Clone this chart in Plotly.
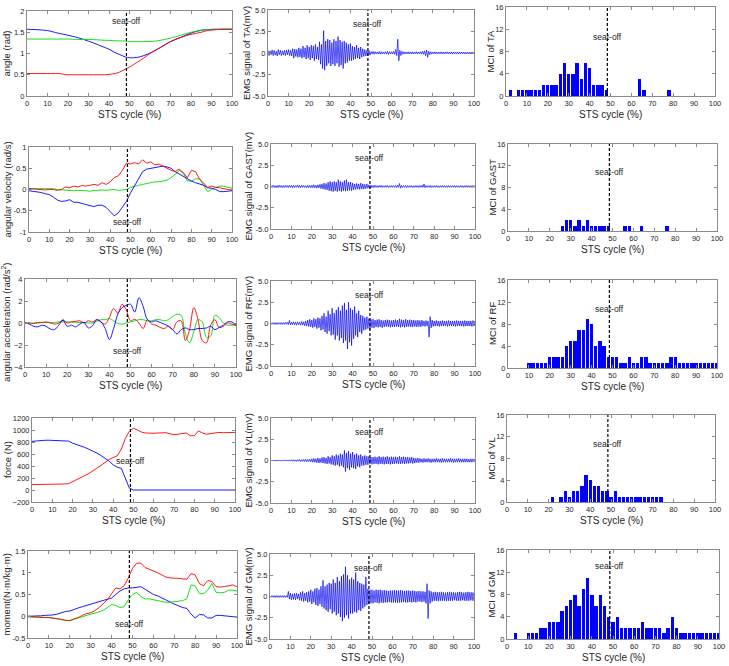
import plotly.graph_objects as go

# ---------------- data ----------------
SEAT_OFF = 48.5
pct = list(range(0, 101))
step2 = list(range(0, 101, 2))

# Row 1: joint angles (rad)
ang_x = [0, 5, 10, 15, 17, 19, 20, 25, 30, 35, 38, 40, 43, 45, 48, 50, 52, 55, 58, 60, 65, 70, 75, 80, 85, 88, 90, 95, 100]
ang_blue = [1.57, 1.56, 1.54, 1.48, 1.46, 1.44, 1.43, 1.37, 1.29, 1.2, 1.14, 1.1, 1.02, 0.98, 0.92, 0.9, 0.9, 0.92, 0.97, 1.01, 1.14, 1.28, 1.38, 1.48, 1.55, 1.56, 1.57, 1.57, 1.57]
ang_green = [1.34, 1.34, 1.34, 1.34, 1.34, 1.34, 1.34, 1.33, 1.33, 1.32, 1.31, 1.31, 1.3, 1.3, 1.29, 1.28, 1.28, 1.28, 1.28, 1.28, 1.31, 1.36, 1.43, 1.5, 1.54, 1.56, 1.56, 1.57, 1.57]
ang_red = [0.53, 0.53, 0.53, 0.53, 0.52, 0.5, 0.5, 0.5, 0.5, 0.5, 0.5, 0.51, 0.53, 0.56, 0.63, 0.68, 0.74, 0.83, 0.93, 1.0, 1.14, 1.28, 1.38, 1.45, 1.5, 1.54, 1.55, 1.57, 1.57]

# Row 2: angular velocity (rad/s), every 2 %
vel_blue = [-0.03, -0.04, -0.05, -0.07, -0.1, -0.12, -0.18, -0.25, -0.28, -0.27, -0.24, -0.3, -0.3, -0.33, -0.35, -0.38, -0.4, -0.37, -0.37, -0.42, -0.52, -0.62, -0.55, -0.4, -0.28, -0.08, 0.08, 0.25, 0.42, 0.48, 0.5, 0.52, 0.54, 0.55, 0.53, 0.5, 0.42, 0.36, 0.3, 0.25, 0.2, 0.16, 0.13, 0.1, 0.04, 0.03, 0.0, -0.05, -0.05, -0.04, -0.03]
vel_red = [0.02, 0.01, 0.0, 0.0, -0.01, 0.0, 0.0, -0.02, 0.0, 0.06, 0.04, 0.08, 0.06, 0.09, 0.08, 0.1, 0.12, 0.1, 0.16, 0.12, 0.18, 0.28, 0.32, 0.45, 0.62, 0.6, 0.63, 0.6, 0.7, 0.62, 0.65, 0.58, 0.6, 0.55, 0.5, 0.45, 0.42, 0.48, 0.4, 0.28, 0.45, 0.42, 0.25, 0.15, 0.05, 0.08, 0.05, 0.04, 0.02, 0.0, -0.02]
vel_green = [0.02, 0.02, 0.02, 0.03, 0.02, 0.02, 0.02, 0.0, -0.01, -0.02, -0.02, -0.03, -0.02, -0.02, -0.03, -0.04, -0.02, -0.02, -0.01, -0.02, -0.01, 0.0, -0.02, -0.01, 0.0, 0.05, 0.08, 0.1, 0.12, 0.14, 0.16, 0.18, 0.18, 0.2, 0.22, 0.28, 0.35, 0.45, 0.38, 0.2, 0.2, 0.25, 0.25, 0.1, -0.05, 0.0, 0.05, 0.08, 0.08, 0.05, 0.03]

# Row 3: angular acceleration (rad/s^2), every 2 %
acc_blue = [0, -0.1, -0.3, -0.35, -0.2, -0.3, -0.55, -0.6, -0.2, 0.25, -0.3, -0.2, -0.35, -0.1, 0.05, -0.45, -0.25, 0.3, 0.1, -0.5, -1.5, -0.5, 0.8, 1.4, 1.6, 1.7, 1.0, 2.3, 1.5, 0.3, 0.1, 0.2, 0.05, -0.1, -0.3, -0.6, -1.0, -0.6, -0.45, -0.6, -0.6, -0.5, -0.5, -0.45, -0.3, -0.6, -0.4, -0.2, 0.1, 0.1, -0.2]
acc_red = [0, 0.0, -0.05, 0.0, 0.05, 0.1, 0.0, -0.1, 0.0, 0.3, 0.0, 0.1, 0.15, 0.2, 0.0, 0.2, 0.1, 0.3, 0.1, -0.1, 0.5, 1.3, 0.9, 1.7, 1.2, 0.2, 0.35, 0.0, -0.5, 0.3, -0.1, -0.2, -0.4, -0.5, -0.3, -0.6, 0.1, 0.2, -1.6, -0.6, 1.4, 0.3, -1.6, -1.8, -0.2, 0.3, -0.4, -0.3, 0.0, -0.1, -0.2]
acc_green = [0, 0.0, 0.0, 0.05, 0.05, 0.05, 0.05, 0.05, 0.1, 0.1, 0.1, 0.1, 0.05, 0.05, 0.05, 0.0, 0.0, 0.15, 0.3, 0.3, 0.4, 0.2, -0.05, -0.1, 0.0, 0.1, 0.2, 0.3, 0.3, 0.2, 0.2, 0.3, 0.3, 0.2, 0.3, 0.6, 0.8, 0.7, -1.0, -1.8, -0.8, 0.3, 0.1, -1.3, -1.2, 0.7, 0.5, 0.0, -0.2, -0.2, -0.2]

# Row 4: force (N), every 2 %
force_blue = [810, 820, 825, 828, 830, 825, 820, 818, 816, 815, 780, 760, 740, 710, 680, 650, 615, 575, 530, 480, 420, 380, 360, 200, 30, 0, 0, 0, 0, 0, 0, 0, 0, 0, 0, 0, 0, 0, 0, 0, 0, 0, 0, 0, 0, 0, 0, 0, 0, 0, 0]
force_red = [90, 90, 88, 88, 90, 95, 97, 98, 100, 105, 140, 170, 200, 235, 275, 320, 360, 410, 460, 510, 540, 570, 680, 860, 980, 1030, 1000, 965, 950, 945, 945, 950, 950, 955, 935, 925, 930, 945, 950, 905, 905, 985, 950, 930, 940, 950, 960, 955, 960, 965, 960]

# Row 5: moment (N·m/kg·m), every 2 %
mom_blue = [0.0, 0.0, 0.01, 0.01, 0.02, 0.02, 0.03, 0.05, 0.08, 0.11, 0.12, 0.16, 0.19, 0.22, 0.25, 0.27, 0.3, 0.34, 0.37, 0.4, 0.42, 0.5, 0.58, 0.63, 0.65, 0.65, 0.66, 0.68, 0.62, 0.56, 0.5, 0.47, 0.42, 0.37, 0.32, 0.28, 0.24, 0.2, 0.18, 0.05, -0.04, 0.04, 0.03, -0.04, -0.04, 0.02, 0.02, 0.01, 0.0, -0.01, -0.02]
mom_red = [0.0, -0.01, -0.02, -0.02, -0.03, -0.03, -0.04, -0.05, -0.07, -0.09, -0.1, -0.06, -0.03, 0.02, 0.06, 0.08, 0.13, 0.2, 0.28, 0.38, 0.52, 0.65, 0.63, 0.7, 0.88, 1.1, 1.22, 1.22, 1.12, 1.08, 1.05, 1.0, 0.95, 0.9, 0.88, 0.88, 0.87, 0.86, 0.85, 0.98, 0.95, 0.75, 0.7, 0.82, 0.8, 0.68, 0.67, 0.68, 0.7, 0.72, 0.68]
mom_green = [-0.02, -0.02, -0.02, -0.03, -0.03, -0.03, -0.04, -0.06, -0.08, -0.1, -0.1, -0.07, -0.04, 0.0, 0.03, 0.05, 0.07, 0.1, 0.14, 0.2, 0.27, 0.25, 0.2, 0.22, 0.38, 0.5, 0.55, 0.45, 0.4, 0.4, 0.38, 0.37, 0.34, 0.32, 0.32, 0.33, 0.35, 0.36, 0.4, 0.72, 0.7, 0.52, 0.52, 0.6, 0.75, 0.55, 0.54, 0.55, 0.6, 0.6, 0.58]

# EMG positive / negative peaks (mV) per 1 % of the cycle
ta_up = [0.3, 0.25, 0.35, 0.3, 0.2, 0.4, 0.3, 0.25, 0.3, 0.35,
         0.4, 0.3, 0.5, 0.45, 0.4, 0.6, 0.5, 0.8, 0.6, 0.9,
         0.7, 0.9, 0.8, 1.0, 0.7, 1.3, 1.0, 2.6, 1.4, 1.6,
         1.5, 1.2, 1.6, 1.4, 1.9, 1.5, 1.3, 1.4, 1.2, 1.0,
         1.1, 0.8, 0.7, 0.9, 0.6, 0.7, 0.5, 0.4, 0.3, 0.3,
         0.15, 0.2, 0.15, 0.12, 0.18, 0.15, 0.12, 0.15, 0.2, 0.15,
         0.15, 0.2, 0.4, 1.6, 0.3, 0.2, 0.15, 0.12, 0.15, 0.12,
         0.15, 0.12, 0.15, 0.12, 0.15, 0.2, 0.25, 0.35, 0.2, 0.15,
         0.12, 0.15, 0.1, 0.12, 0.14, 0.1, 0.12, 0.13, 0.1, 0.12,
         0.12, 0.1, 0.13, 0.1, 0.12, 0.11, 0.1, 0.12, 0.1, 0.12, 0.1]
ta_lo = [-0.3, -0.2, -0.3, -0.25, -0.35, -0.2, -0.3, -0.25, -0.3, -0.2,
         -0.3, -0.35, -0.6, -0.4, -0.5, -0.45, -0.6, -0.5, -0.7, -0.6,
         -0.8, -0.6, -0.9, -0.7, -0.8, -1.3, -1.8, -2.0, -1.5, -1.2,
         -1.5, -1.3, -1.5, -1.2, -1.6, -1.4, -1.8, -1.2, -1.1, -0.9,
         -0.9, -0.8, -0.7, -0.6, -0.7, -0.5, -0.4, -0.35, -0.3, -0.25,
         -0.12, -0.15, -0.1, -0.12, -0.15, -0.12, -0.1, -0.12, -0.15, -0.12,
         -0.12, -0.15, -0.3, -0.9, -0.3, -0.15, -0.12, -0.1, -0.12, -0.1,
         -0.12, -0.1, -0.12, -0.1, -0.12, -0.15, -0.3, -0.5, -0.2, -0.12,
         -0.1, -0.12, -0.1, -0.1, -0.12, -0.1, -0.1, -0.11, -0.1, -0.12,
         -0.1, -0.1, -0.12, -0.1, -0.1, -0.11, -0.1, -0.1, -0.12, -0.1, -0.1]
gast_up = [0.12, 0.15, 0.1, 0.12, 0.15, 0.12, 0.1, 0.14, 0.12, 0.15,
           0.12, 0.15, 0.1, 0.18, 0.12, 0.15, 0.12, 0.1, 0.15, 0.12,
           0.15, 0.2, 0.15, 0.2, 0.25, 0.3, 0.4, 0.35, 0.5, 0.6,
           0.5, 0.6, 0.5, 0.8, 0.6, 0.5, 0.7, 0.8, 0.5, 0.5,
           0.4, 0.3, 0.35, 0.3, 0.4, 0.3, 0.25, 0.3, 0.2, 0.15,
           0.12, 0.15, 0.1, 0.12, 0.15, 0.1, 0.12, 0.12, 0.1, 0.12,
           0.1, 0.12, 0.15, 0.35, 0.12, 0.1, 0.12, 0.1, 0.12, 0.1,
           0.1, 0.12, 0.1, 0.12, 0.15, 0.3, 0.12, 0.1, 0.12, 0.1,
           0.1, 0.12, 0.1, 0.1, 0.12, 0.1, 0.1, 0.12, 0.1, 0.1,
           0.12, 0.1, 0.1, 0.12, 0.1, 0.1, 0.12, 0.1, 0.1, 0.12, 0.1]
gast_lo = [-0.12, -0.1, -0.15, -0.12, -0.1, -0.14, -0.12, -0.1, -0.12, -0.1,
           -0.15, -0.12, -0.1, -0.12, -0.15, -0.1, -0.12, -0.15, -0.12, -0.15,
           -0.15, -0.15, -0.2, -0.15, -0.25, -0.3, -0.35, -0.4, -0.5, -0.55,
           -0.6, -0.5, -0.6, -0.5, -0.6, -0.5, -0.55, -0.5, -0.45, -0.5,
           -0.4, -0.35, -0.3, -0.35, -0.3, -0.3, -0.25, -0.2, -0.2, -0.15,
           -0.12, -0.1, -0.12, -0.1, -0.12, -0.1, -0.1, -0.12, -0.1, -0.1,
           -0.1, -0.12, -0.1, -0.2, -0.1, -0.1, -0.12, -0.1, -0.1, -0.12,
           -0.1, -0.1, -0.12, -0.1, -0.1, -0.15, -0.1, -0.1, -0.12, -0.1,
           -0.1, -0.1, -0.12, -0.1, -0.1, -0.1, -0.12, -0.1, -0.1, -0.1,
           -0.12, -0.1, -0.1, -0.1, -0.12, -0.1, -0.1, -0.1, -0.12, -0.1, -0.1]
rf_up = [0.1, 0.12, 0.1, 0.12, 0.1, 0.12, 0.1, 0.12, 0.15, 0.35,
         0.15, 0.2, 0.15, 0.2, 0.15, 0.25, 0.2, 0.3, 0.4, 0.5,
         0.4, 0.6, 0.5, 0.7, 0.6, 0.9, 1.2, 0.8, 1.5, 1.1,
         1.8, 1.2, 1.6, 1.9, 1.5, 2.1, 2.4, 1.6, 2.5, 1.8,
         1.6, 2.0, 1.2, 1.5, 1.0, 0.9, 0.7, 0.8, 0.6, 0.5,
         0.5, 0.4, 0.45, 0.5, 0.4, 0.35, 0.4, 0.45, 0.4, 0.35,
         0.4, 0.45, 0.4, 0.55, 0.45, 0.4, 0.5, 0.4, 0.45, 0.4,
         0.4, 0.35, 0.4, 0.35, 0.4, 0.3, 0.35, 0.3, 0.8, 0.4,
         0.3, 0.35, 0.3, 0.3, 0.35, 0.3, 0.3, 0.35, 0.3, 0.3,
         0.3, 0.35, 0.3, 0.3, 0.3, 0.35, 0.3, 0.3, 0.3, 0.35, 0.3]
rf_lo = [-0.1, -0.1, -0.12, -0.1, -0.1, -0.12, -0.1, -0.1, -0.12, -0.15,
         -0.15, -0.15, -0.2, -0.15, -0.2, -0.2, -0.25, -0.3, -0.35, -0.4,
         -0.5, -0.4, -0.6, -0.5, -0.8, -0.7, -1.0, -1.2, -0.9, -1.4,
         -1.3, -1.9, -1.4, -2.0, -1.7, -2.3, -2.0, -3.0, -2.2, -2.6,
         -1.8, -1.4, -1.6, -1.0, -1.2, -0.8, -0.7, -0.6, -0.7, -0.5,
         -0.5, -0.4, -0.45, -0.4, -0.5, -0.4, -0.35, -0.4, -0.45, -0.4,
         -0.4, -0.35, -0.4, -0.45, -0.4, -0.45, -0.4, -0.35, -0.4, -0.4,
         -0.35, -0.4, -0.35, -0.4, -0.3, -0.35, -0.3, -1.6, -0.5, -0.35,
         -0.3, -0.3, -0.35, -0.3, -0.3, -0.3, -0.35, -0.3, -0.3, -0.3,
         -0.35, -0.3, -0.3, -0.3, -0.35, -0.3, -0.3, -0.3, -0.35, -0.3, -0.3]
vl_up = [0.05, 0.06, 0.05, 0.07, 0.05, 0.06, 0.05, 0.08, 0.06, 0.07,
         0.08, 0.1, 0.08, 0.1, 0.12, 0.1, 0.12, 0.15, 0.12, 0.15,
         0.2, 0.25, 0.2, 0.3, 0.25, 0.35, 0.4, 0.3, 0.5, 0.4,
         0.6, 0.5, 0.7, 0.6, 0.8, 0.7, 1.2, 0.9, 1.1, 0.8,
         1.0, 0.7, 0.8, 0.6, 0.7, 0.5, 0.6, 0.5, 0.5, 0.4,
         0.4, 0.45, 0.4, 0.5, 0.4, 0.45, 0.4, 0.5, 0.4, 0.45,
         0.4, 0.45, 0.4, 0.5, 0.4, 0.45, 0.4, 0.4, 0.35, 0.4,
         0.3, 0.25, 0.3, 0.25, 0.2, 0.25, 0.2, 0.25, 0.2, 0.2,
         0.2, 0.25, 0.2, 0.2, 0.25, 0.2, 0.2, 0.2, 0.25, 0.2,
         0.2, 0.2, 0.25, 0.2, 0.2, 0.2, 0.2, 0.15, 0.2, 0.2, 0.15]
vl_lo = [-0.05, -0.06, -0.05, -0.06, -0.05, -0.07, -0.05, -0.06, -0.08, -0.06,
         -0.08, -0.1, -0.1, -0.08, -0.12, -0.1, -0.12, -0.15, -0.12, -0.15,
         -0.2, -0.2, -0.25, -0.3, -0.25, -0.3, -0.35, -0.4, -0.35, -0.45,
         -0.5, -0.6, -0.5, -0.7, -0.6, -0.8, -1.3, -0.9, -1.1, -0.8,
         -0.9, -1.0, -0.7, -0.8, -0.6, -0.6, -0.5, -0.5, -0.4, -0.45,
         -0.4, -0.4, -0.45, -0.4, -0.4, -0.45, -0.4, -0.4, -0.45, -0.4,
         -0.4, -0.35, -0.4, -0.4, -0.35, -0.4, -0.35, -0.35, -0.3, -0.35,
         -0.3, -0.25, -0.25, -0.2, -0.25, -0.2, -0.2, -0.2, -0.25, -0.2,
         -0.2, -0.2, -0.2, -0.25, -0.2, -0.2, -0.2, -0.2, -0.2, -0.25,
         -0.2, -0.2, -0.2, -0.2, -0.2, -0.2, -0.2, -0.2, -0.2, -0.15, -0.2]
gm_up = [0.1, 0.12, 0.1, 0.12, 0.1, 0.12, 0.1, 0.12, 0.1, 0.6,
         0.4, 0.3, 0.35, 0.4, 0.3, 0.5, 0.6, 0.4, 0.5, 0.6,
         0.8, 0.6, 0.9, 1.0, 0.8, 1.2, 1.9, 1.2, 1.4, 1.6,
         1.5, 2.0, 1.6, 2.3, 1.8, 2.4, 2.6, 3.5, 2.5, 2.0,
         2.2, 2.0, 2.8, 1.8, 1.6, 1.5, 1.4, 2.3, 0.9, 0.8,
         0.8, 0.7, 0.8, 0.75, 0.8, 0.7, 0.75, 0.7, 0.65, 0.7,
         0.7, 0.75, 0.7, 0.7, 0.75, 0.7, 0.65, 0.7, 0.7, 0.65,
         0.7, 0.65, 0.6, 0.65, 0.6, 0.6, 0.55, 1.5, 0.7, 0.6,
         0.5, 0.55, 0.5, 0.5, 0.55, 0.5, 0.45, 0.5, 0.55, 0.5,
         0.5, 0.45, 0.5, 0.55, 0.5, 0.45, 0.5, 0.55, 0.5, 0.5, 0.45]
gm_lo = [-0.1, -0.1, -0.12, -0.1, -0.12, -0.1, -0.1, -0.12, -0.1, -0.3,
         -0.4, -0.35, -0.4, -0.3, -0.45, -0.5, -0.6, -0.5, -0.7, -0.6,
         -0.9, -0.7, -1.0, -1.1, -0.9, -1.2, -1.4, -1.6, -1.8, -1.5,
         -2.0, -1.8, -2.2, -2.0, -2.4, -2.9, -2.5, -2.2, -2.6, -2.0,
         -2.0, -1.8, -1.9, -1.6, -1.7, -1.4, -1.2, -1.0, -0.9, -0.8,
         -0.8, -0.7, -0.75, -0.8, -0.7, -0.75, -0.7, -0.7, -0.65, -0.7,
         -0.7, -0.7, -0.75, -0.7, -0.7, -0.65, -0.7, -0.7, -0.65, -0.7,
         -0.65, -0.7, -0.6, -0.6, -0.65, -0.6, -0.8, -2.6, -0.8, -0.6,
         -0.5, -0.5, -0.55, -0.5, -0.5, -0.5, -0.55, -0.5, -0.5, -0.5,
         -0.45, -0.5, -0.5, -0.5, -0.45, -0.5, -0.5, -0.5, -0.45, -0.5, -0.5]

# MCI histograms (bins every 2 %)
mci_bins = list(range(2, 101, 2))
mci_ta = [1, 0, 1, 1, 1, 1, 1, 1, 2, 2, 2, 2, 4, 6, 4, 4, 6, 3, 6, 5, 2, 2, 2, 1, 0, 0, 0, 0, 0, 0, 0, 3, 1, 0, 0, 0, 0, 0, 1, 0, 0, 0, 0, 0, 0, 0, 0, 0, 0, 0]
mci_gast = [0, 0, 0, 0, 0, 0, 0, 0, 0, 0, 0, 0, 1, 2, 2, 1, 2, 1, 2, 1, 1, 1, 1, 1, 0, 0, 0, 1, 1, 0, 0, 1, 0, 0, 0, 0, 0, 1, 0, 0, 0, 0, 0, 0, 0, 0, 0, 0, 0, 0]
mci_rf = [0, 0, 0, 0, 1, 1, 1, 1, 1, 2, 2, 2, 2, 4, 5, 5, 7, 7, 9, 8, 4, 5, 4, 2, 2, 2, 1, 1, 2, 1, 1, 2, 2, 1, 1, 1, 1, 1, 2, 2, 1, 1, 1, 1, 1, 1, 1, 1, 1, 1]
mci_vl = [0, 0, 0, 0, 0, 0, 0, 0, 0, 0, 1, 0, 1, 2, 1, 2, 2, 3, 5, 4, 3, 3, 2, 2, 1, 2, 1, 1, 1, 1, 1, 1, 1, 1, 1, 1, 1, 0, 0, 0, 0, 0, 0, 0, 0, 0, 0, 0, 0, 0]
mci_gm = [0, 1, 0, 0, 1, 1, 1, 2, 2, 3, 3, 3, 5, 6, 7, 8, 6, 9, 11, 8, 6, 8, 6, 4, 3, 4, 2, 2, 2, 2, 2, 3, 2, 2, 2, 2, 1, 2, 4, 2, 1, 1, 1, 1, 1, 1, 1, 1, 1, 1]

x_ticks = list(range(0, 101, 10))

# ---------------- layout helpers ----------------
W, H = 729, 666
FONT = "Liberation Sans, Arial, Helvetica, sans-serif"
BLUE, RED, GREEN = "#0000ff", "#ff0000", "#00dd00"
TXT = "#262626"

# pixel boxes: left, top, right, bottom ; and y-title centre x (px)
boxes = {
    (1, 1): (27, 11, 232, 96), (1, 2): (268, 10, 474, 96), (1, 3): (506, 7, 715, 96),
    (2, 1): (29, 147, 232, 232), (2, 2): (271, 144, 475, 229), (2, 3): (508, 144, 717, 231),
    (3, 1): (25, 279, 236, 367), (3, 2): (271, 281, 475, 366), (3, 3): (508, 280, 717, 368),
    (4, 1): (32, 418, 235, 502), (4, 2): (271, 418, 475, 503), (4, 3): (507, 415, 715, 502),
    (5, 1): (28, 551, 237, 638), (5, 2): (270, 554, 474, 639), (5, 3): (507, 550, 719, 639),
}
ytitle_x = {
    (1, 1): 6, (2, 1): 7, (3, 1): 6, (4, 1): 7, (5, 1): 6,
    (1, 2): 246, (2, 2): 248, (3, 2): 248, (4, 2): 248, (5, 2): 248,
    (1, 3): 490, (2, 3): 492, (3, 3): 492, (4, 3): 491, (5, 3): 491,
}

fig = go.Figure()
layout = dict(width=W, height=H, margin=dict(l=0, r=0, t=0, b=0, autoexpand=False),
              plot_bgcolor="white", paper_bgcolor="white", showlegend=False,
              font=dict(family=FONT, size=8, color=TXT))
shapes, annotations = [], []

def setup(r, c, yrange, yticks, ytitle, ytext=None, seat_y=0.0):
    n = (r - 1) * 3 + c
    sfx = "" if n == 1 else str(n)
    L, T, R, B = boxes[(r, c)]
    common = dict(showline=True, linecolor="#8a8a8a", linewidth=1, mirror="ticks",
                  ticks="inside", ticklen=3, tickcolor="#8a8a8a", showgrid=False,
                  zeroline=False, automargin=False,
                  tickfont=dict(size=7.5, family=FONT, color=TXT))
    layout["xaxis" + sfx] = dict(domain=[L / W, R / W], anchor="y" + sfx, range=[0, 100],
                                 tickvals=x_ticks, **common)
    yd = dict(domain=[1 - B / H, 1 - T / H], anchor="x" + sfx, range=yrange,
              tickvals=yticks, **common)
    if ytext is not None:
        yd["ticktext"] = ytext
    layout["yaxis" + sfx] = yd
    # axis titles
    annotations.append(dict(xref="paper", yref="paper", x=(L + R) / 2 / W, y=1 - (B + 18.5) / H,
                            text="STS cycle (%)", showarrow=False, xanchor="center", yanchor="middle",
                            font=dict(size=10, family=FONT, color=TXT)))
    annotations.append(dict(xref="paper", yref="paper", x=ytitle_x[(r, c)] / W, y=1 - (T + B) / 2 / H,
                            text=ytitle, showarrow=False, textangle=-90, xanchor="center", yanchor="middle",
                            font=dict(size=9.5, family=FONT, color=TXT)))
    shapes.append(dict(type="line", xref="x" + sfx, yref="y" + sfx + " domain", x0=SEAT_OFF, x1=SEAT_OFF,
                       y0=0, y1=1, line=dict(color="black", width=1.2, dash="3px,2px")))
    annotations.append(dict(xref="x" + sfx, yref="y" + sfx, x=SEAT_OFF, y=seat_y, text="seat-off",
                            showarrow=False, font=dict(size=8.5, family=FONT, color=TXT)))
    return "x" + sfx, "y" + sfx

def line(xr, yr, xs, ys, color, width=0.9, shape="linear"):
    fig.add_trace(go.Scatter(x=xs, y=ys, xaxis=xr, yaxis=yr, mode="lines",
                             line=dict(color=color, width=width, shape=shape), hoverinfo="skip"))

def emg(xr, yr, up, lo):
    xs, ys = [], []
    for p, u, l in zip(pct, up, lo):
        xs += [p, p + 0.5]
        ys += [u, l]
    fig.add_trace(go.Scatter(x=xs, y=ys, xaxis=xr, yaxis=yr, mode="lines",
                             line=dict(color="rgba(0,0,235,0.85)", width=0.8), hoverinfo="skip"))

def bars(xr, yr, vals):
    fig.add_trace(go.Bar(x=mci_bins, y=vals, xaxis=xr, yaxis=yr, width=1.6,
                         marker=dict(color="#0000ff", line=dict(width=0)), hoverinfo="skip"))

# Column 1
xr, yr = setup(1, 1, [0, 2], [0, 0.5, 1, 1.5, 2], "angle (rad)", ["0", "0.5", "1", "1.5", "2"], 1.77)
line(xr, yr, ang_x, ang_blue, BLUE, shape="spline")
line(xr, yr, ang_x, ang_green, GREEN, shape="spline")
line(xr, yr, ang_x, ang_red, RED, shape="spline")

xr, yr = setup(2, 1, [-1, 1], [-1, -0.5, 0, 0.5, 1], "angular velocity (rad/s)", ["-1", "-0.5", "0", "0.5", "1"], -0.77)
line(xr, yr, step2, vel_green, GREEN)
line(xr, yr, step2, vel_blue, BLUE)
line(xr, yr, step2, vel_red, RED)

xr, yr = setup(3, 1, [-4, 4], [-4, -2, 0, 2, 4], "angular acceleration (rad/s<sup>2</sup>)", None, -2.55)
line(xr, yr, step2, acc_green, GREEN, shape="spline")
line(xr, yr, step2, acc_red, RED, shape="spline")
line(xr, yr, step2, acc_blue, BLUE, shape="spline")

xr, yr = setup(4, 1, [-200, 1200], list(range(-200, 1201, 200)), "force (N)", None, 490)
line(xr, yr, step2, force_blue, BLUE)
line(xr, yr, step2, force_red, RED)

xr, yr = setup(5, 1, [-0.5, 1.5], [-0.5, 0, 0.5, 1, 1.5], "moment(N·m/kg·m)", ["-0.5", "0", "0.5", "1", "1.5"], -0.17)
line(xr, yr, step2, mom_blue, BLUE)
line(xr, yr, step2, mom_green, GREEN)
line(xr, yr, step2, mom_red, RED)

# Column 2
emg_ticks = [-5, -2.5, 0, 2.5, 5]
emg_text = ["-5.0", "-2.5", "0", "2.5", "5.0"]
for r, name, up, lo in [(1, "TA", ta_up, ta_lo), (2, "GAST", gast_up, gast_lo), (3, "RF", rf_up, rf_lo),
                        (4, "VL", vl_up, vl_lo), (5, "GM", gm_up, gm_lo)]:
    xr, yr = setup(r, 2, [-5, 5], emg_ticks, f"EMG signal of {name}(mV)", emg_text, 3.35)
    emg(xr, yr, up, lo)

# Column 3
for r, name, vals, sy in [(1, "TA", mci_ta, 10.6), (2, "GAST", mci_gast, 10.8), (3, "RF", mci_rf, 10.7),
                          (4, "VL", mci_vl, 10.6), (5, "GM", mci_gm, 13.2)]:
    xr, yr = setup(r, 3, [0, 16], [0, 4, 8, 12, 16], f"MCI of {name}", None, sy)
    bars(xr, yr, vals)

layout["shapes"] = shapes
layout["annotations"] = annotations
layout["bargap"] = 0
fig.update_layout(**layout)
# remove the browser's default 8px page margin so the figure fills the window exactly
fig.write_html("out.html", config={"displayModeBar": False},
               post_script="document.body.style.margin='0';document.body.style.overflow='hidden';")
